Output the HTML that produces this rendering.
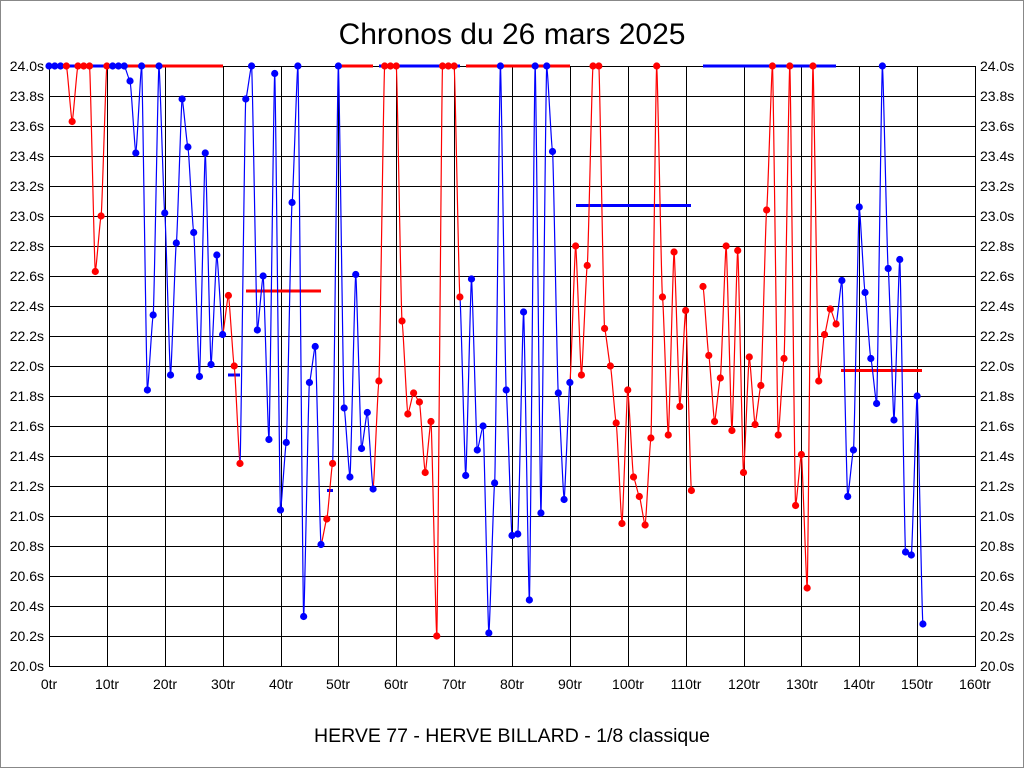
<!DOCTYPE html>
<html><head><meta charset="utf-8">
<style>
html,body{margin:0;padding:0;background:#fff;}
svg{display:block;font-family:"Liberation Sans",sans-serif;}
</style></head>
<body>
<svg id="c" width="1024" height="768" xmlns="http://www.w3.org/2000/svg">
<rect x="0.5" y="0.5" width="1023" height="767" fill="#fff" stroke="#888"/>
<text x="512" y="44" font-size="30" text-anchor="middle">Chronos du 26 mars 2025</text>
<text x="512" y="742" font-size="19.5" text-anchor="middle">HERVE 77 - HERVE BILLARD - 1/8 classique</text>
<g id="grid" stroke="#000" stroke-width="1" fill="none"></g>
<g font-size="14" text-anchor="end">
<text x="44" y="71">24.0s</text><text x="44" y="101">23.8s</text><text x="44" y="131">23.6s</text><text x="44" y="161">23.4s</text><text x="44" y="191">23.2s</text><text x="44" y="221">23.0s</text><text x="44" y="251">22.8s</text><text x="44" y="281">22.6s</text><text x="44" y="311">22.4s</text><text x="44" y="341">22.2s</text><text x="44" y="371">22.0s</text><text x="44" y="401">21.8s</text><text x="44" y="431">21.6s</text><text x="44" y="461">21.4s</text><text x="44" y="491">21.2s</text><text x="44" y="521">21.0s</text><text x="44" y="551">20.8s</text><text x="44" y="581">20.6s</text><text x="44" y="611">20.4s</text><text x="44" y="641">20.2s</text><text x="44" y="671">20.0s</text>
</g>
<g font-size="14" text-anchor="start">
<text x="980" y="71">24.0s</text><text x="980" y="101">23.8s</text><text x="980" y="131">23.6s</text><text x="980" y="161">23.4s</text><text x="980" y="191">23.2s</text><text x="980" y="221">23.0s</text><text x="980" y="251">22.8s</text><text x="980" y="281">22.6s</text><text x="980" y="311">22.4s</text><text x="980" y="341">22.2s</text><text x="980" y="371">22.0s</text><text x="980" y="401">21.8s</text><text x="980" y="431">21.6s</text><text x="980" y="461">21.4s</text><text x="980" y="491">21.2s</text><text x="980" y="521">21.0s</text><text x="980" y="551">20.8s</text><text x="980" y="581">20.6s</text><text x="980" y="611">20.4s</text><text x="980" y="641">20.2s</text><text x="980" y="671">20.0s</text>
</g>
<g font-size="14" text-anchor="middle">
<text x="49" y="689">0tr</text><text x="107" y="689">10tr</text><text x="165" y="689">20tr</text><text x="223" y="689">30tr</text><text x="281" y="689">40tr</text><text x="338" y="689">50tr</text><text x="396" y="689">60tr</text><text x="454" y="689">70tr</text><text x="512" y="689">80tr</text><text x="570" y="689">90tr</text><text x="628" y="689">100tr</text><text x="686" y="689">110tr</text><text x="744" y="689">120tr</text><text x="802" y="689">130tr</text><text x="859" y="689">140tr</text><text x="917" y="689">150tr</text><text x="975" y="689">160tr</text>
</g>
<g id="avg" stroke-width="3"></g>
<g id="lines" fill="none" stroke-width="1.2"></g>
<g id="pts"></g>
</svg>
<script>
var NS="http://www.w3.org/2000/svg";
function el(p,t,a){var e=document.createElementNS(NS,t);for(var k in a)e.setAttribute(k,a[k]);document.getElementById(p).appendChild(e);return e;}
for(var i=0;i<=16;i++){var x=Math.round(49+57.875*i)+0.5;el("grid","line",{x1:x,y1:66,x2:x,y2:666});}
for(var j=0;j<=20;j++){var y=66+30*j+0.5;el("grid","line",{x1:49,y1:y,x2:975,y2:y});}
el("grid","rect",{x:49.5,y:66.5,width:926,height:600});
function X(i){return 49+5.7875*i;}function Y(v){return 66+(24-v)*150;}
var B="#0000ff",R="#ff0000";
var d=[[0,24,B],[1,24,B],[2,24,B],[3,24,R],[4,23.63,R],[5,24,R],[6,24,R],[7,24,R],[8,22.63,R],[9,23.0,R],[10,24,R],[11,24,B],[12,24,B],[13,24,B],[14,23.9,B],[15,23.42,B],[16,24,B],[17,21.84,B],[18,22.34,B],[19,24,B],[20,23.02,B],[21,21.94,B],[22,22.82,B],[23,23.78,B],[24,23.46,B],[25,22.89,B],[26,21.93,B],[27,23.42,B],[28,22.01,B],[29,22.74,B],[30,22.21,B],[31,22.47,R],[32,22.0,R],[33,21.35,R],[34,23.78,B],[35,24,B],[36,22.24,B],[37,22.6,B],[38,21.51,B],[39,23.95,B],[40,21.04,B],[41,21.49,B],[42,23.09,B],[43,24,B],[44,20.33,B],[45,21.89,B],[46,22.13,B],[47,20.81,B],[48,20.98,R],[49,21.35,R],[50,24,B],[51,21.72,B],[52,21.26,B],[53,22.61,B],[54,21.45,B],[55,21.69,B],[56,21.18,B],[57,21.9,R],[58,24,R],[59,24,R],[60,24,R],[61,22.3,R],[62,21.68,R],[63,21.82,R],[64,21.76,R],[65,21.29,R],[66,21.63,R],[67,20.2,R],[68,24,R],[69,24,R],[70,24,R],[71,22.46,R],[72,21.27,B],[73,22.58,B],[74,21.44,B],[75,21.6,B],[76,20.22,B],[77,21.22,B],[78,24,B],[79,21.84,B],[80,20.87,B],[81,20.88,B],[82,22.36,B],[83,20.44,B],[84,24,B],[85,21.02,B],[86,24,B],[87,23.43,B],[88,21.82,B],[89,21.11,B],[90,21.89,B],[91,22.8,R],[92,21.94,R],[93,22.67,R],[94,24,R],[95,24,R],[96,22.25,R],[97,22.0,R],[98,21.62,R],[99,20.95,R],[100,21.84,R],[101,21.26,R],[102,21.13,R],[103,20.94,R],[104,21.52,R],[105,24,R],[106,22.46,R],[107,21.54,R],[108,22.76,R],[109,21.73,R],[110,22.37,R],[111,21.17,R],[113,22.53,R],[114,22.07,R],[115,21.63,R],[116,21.92,R],[117,22.8,R],[118,21.57,R],[119,22.77,R],[120,21.29,R],[121,22.06,R],[122,21.61,R],[123,21.87,R],[124,23.04,R],[125,24,R],[126,21.54,R],[127,22.05,R],[128,24,R],[129,21.07,R],[130,21.41,R],[131,20.52,R],[132,24,R],[133,21.9,R],[134,22.21,R],[135,22.38,R],[136,22.28,R],[137,22.57,B],[138,21.13,B],[139,21.44,B],[140,23.06,B],[141,22.49,B],[142,22.05,B],[143,21.75,B],[144,24,B],[145,22.65,B],[146,21.64,B],[147,22.71,B],[148,20.76,B],[149,20.74,B],[150,21.8,B],[151,20.28,B]];
var av=[[49,124,24,B],[124,223,24,R],[228,240,21.94,B],[246,321,22.5,R],[327,333,21.17,B],[338,373,24,R],[379,460,24,B],[466,570,24,R],[576,691,23.07,B],[703,836,24,B],[841,922,21.97,R]];
av.forEach(function(a){el("avg","line",{x1:a[0],x2:a[1],y1:Y(a[2]),y2:Y(a[2]),stroke:a[3]});});
for(var k=1;k<d.length;k++){var p=d[k-1],q=d[k];if(q[0]-p[0]>1)continue;
var x1=X(p[0]),y1=Y(p[1]),x2=X(q[0]),y2=Y(q[1]),m=(x2-x1)/2;
el("lines","path",{d:"M"+x1+","+y1+"C"+(x1+m*0.3)+","+y1+" "+(x2-m*0.3)+","+y2+" "+x2+","+y2,stroke:q[2]});}
d.forEach(function(p){el("pts","circle",{cx:X(p[0]),cy:Y(p[1]),r:3.6,fill:p[2]});});
</script>
</body></html>
